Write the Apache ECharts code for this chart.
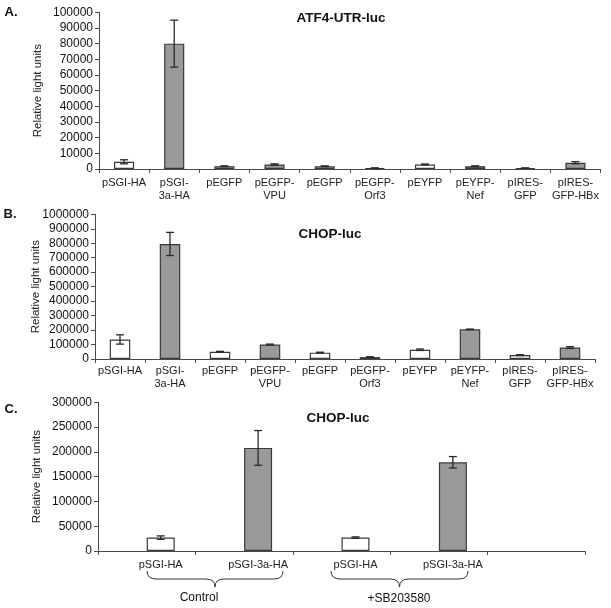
<!DOCTYPE html>
<html>
<head>
<meta charset="utf-8">
<script src="https://cdn.jsdelivr.net/npm/echarts@6/dist/echarts.min.js"></script>
<style>html,body{margin:0;padding:0;background:#fff}#c{width:611px;height:608px}</style>
</head>
<body>
<div id="c"></div>
<script>
// ---- data ----
var catsAB = ['pSGI-HA', 'pSGI-\n3a-HA', 'pEGFP', 'pEGFP-\nVPU', 'pEGFP', 'pEGFP-\nOrf3', 'pEYFP', 'pEYFP-\nNef', 'pIRES-\nGFP', 'pIRES-\nGFP-HBx'];
var atf4Values = [4600, 80000, 1800, 2900, 1800, 600, 2900, 1800, 600, 4000];
var atf4Errors = [1300, 15000, 200, 400, 200, 100, 300, 200, 100, 700];
var chopValues = [135000, 795000, 50000, 100000, 44000, 13000, 64000, 205000, 27000, 79000];
var chopErrors = [32000, 80000, 3000, 3000, 3000, 2000, 5000, 2000, 3000, 6000];
var catsC = ['pSGI-HA', 'pSGI-3a-HA', 'pSGI-HA', 'pSGI-3a-HA', ''];
var chopCValues = [27000, 208000, 27000, 179000, null];
var chopCErrors = [3500, 35000, 1500, 11500, null];
var groupLabels = ['Control', '+SB203580'];
var yTicksA = {min: 0, max: 100000, interval: 10000};
var yTicksB = {min: 0, max: 1000000, interval: 100000};
var yTicksC = {min: 0, max: 300000, interval: 50000};

// ---- styles ----
var FONT = 'Arial, "Liberation Sans", sans-serif';
var GREY = '#9a9a9a', WHITE = '#ffffff', EDGE = '#3a3a3a', AXIS = '#4a4a4a';

function fillFor(p) { return p.dataIndex % 2 === 0 ? WHITE : GREY; }

function errData(vals, errs) {
  return vals.map(function (v, i) {
    return v == null ? [i, null, null] : [i, v - errs[i], v + errs[i]];
  });
}
function errRender(offset, cap) {
  return function (params, api) {
    var lo = api.value(1), hi = api.value(2);
    if (lo == null || isNaN(lo)) return null;
    var pLo = api.coord([api.value(0), lo]);
    var pHi = api.coord([api.value(0), hi]);
    var x = pLo[0] + offset;
    var st = {stroke: '#2a2a2a', lineWidth: 1.3};
    return {type: 'group', children: [
      {type: 'line', shape: {x1: x, y1: pLo[1], x2: x, y2: pHi[1]}, style: st},
      {type: 'line', shape: {x1: x - cap / 2, y1: pHi[1], x2: x + cap / 2, y2: pHi[1]}, style: st},
      {type: 'line', shape: {x1: x - cap / 2, y1: pLo[1], x2: x + cap / 2, y2: pLo[1]}, style: st}
    ]};
  };
}
function xAxisCfg(idx, data, margin, showLabel) {
  return {
    type: 'category', gridIndex: idx, data: data,
    axisLine: {lineStyle: {color: AXIS, width: 1}},
    axisTick: {show: true, interval: 0, length: 4, lineStyle: {color: AXIS}},
    axisLabel: {show: showLabel, interval: 0, fontFamily: FONT, fontSize: 11, color: '#222', lineHeight: 13, margin: margin}
  };
}
function yAxisCfg(idx, t, gap) {
  return {
    type: 'value', gridIndex: idx, min: t.min, max: t.max, interval: t.interval,
    name: 'Relative light units', nameLocation: 'middle', nameGap: gap, nameRotate: 90,
    nameMoveOverlap: false,
    nameTextStyle: {fontFamily: FONT, fontSize: 11.5, color: '#222'},
    axisLine: {show: true, lineStyle: {color: AXIS}},
    axisTick: {show: true, length: 4, lineStyle: {color: AXIS}},
    axisLabel: {fontFamily: FONT, fontSize: 12, color: '#111', margin: 6,
      formatter: function (v) { return String(v); }},
    splitLine: {show: false}
  };
}

var chart = echarts.init(document.getElementById('c'), null, {renderer: 'canvas'});
var option = {
  animation: false,
  backgroundColor: '#fff',
  grid: [
    {left: 99, top: 12.3, width: 501.5, height: 156.7},
    {left: 95, top: 214.3, width: 500, height: 144.7},
    {left: 98, top: 402.3, width: 487, height: 148.7}
  ],
  xAxis: [
    xAxisCfg(0, catsAB, 7, true),
    xAxisCfg(1, catsAB, 5, true),
    xAxisCfg(2, catsC, 8, false)
  ],
  yAxis: [
    yAxisCfg(0, yTicksA, 55),
    yAxisCfg(1, yTicksB, 53),
    yAxisCfg(2, yTicksC, 55)
  ],
  series: [
    {type: 'bar', xAxisIndex: 0, yAxisIndex: 0, data: atf4Values, barWidth: '40%',
      itemStyle: {color: fillFor, borderColor: EDGE, borderWidth: 1.2}},
    {type: 'custom', xAxisIndex: 0, yAxisIndex: 0, data: errData(atf4Values, atf4Errors),
      renderItem: errRender(0, 8), encode: {x: 0, y: [1, 2]}, z: 5},
    {type: 'bar', xAxisIndex: 1, yAxisIndex: 1, data: chopValues, barWidth: '41%',
      itemStyle: {color: fillFor, borderColor: EDGE, borderWidth: 1.2}},
    {type: 'custom', xAxisIndex: 1, yAxisIndex: 1, data: errData(chopValues, chopErrors),
      renderItem: errRender(0, 8), encode: {x: 0, y: [1, 2]}, z: 5},
    {type: 'bar', xAxisIndex: 2, yAxisIndex: 2, data: catsC.map(function () { return null; }),
      barWidth: 28, barGap: '0%', itemStyle: {color: 'transparent'}},
    {type: 'bar', xAxisIndex: 2, yAxisIndex: 2, data: chopCValues, barWidth: 28, barGap: '0%',
      itemStyle: {color: fillFor, borderColor: EDGE, borderWidth: 1.2},
      label: {show: true, position: 'bottom', distance: 8, fontFamily: FONT, fontSize: 11, color: '#222',
        formatter: function (p) { return catsC[p.dataIndex]; }}},
    {type: 'custom', xAxisIndex: 2, yAxisIndex: 2, data: errData(chopCValues, chopCErrors),
      renderItem: errRender(14, 8), encode: {x: 0, y: [1, 2]}, z: 5}
  ]
};
chart.setOption(option);

var braceStyle = {stroke: '#333', lineWidth: 1, fill: null};
function brace(x1, x2, y0, y1, y2, r) {
  var xm = (x1 + x2) / 2;
  return [
    {type: 'bezierCurve', shape: {x1: x1, y1: y0, cpx1: x1, cpy1: y1, x2: x1 + r, y2: y1}, style: braceStyle},
    {type: 'line', shape: {x1: x1 + r, y1: y1, x2: xm - r, y2: y1}, style: braceStyle},
    {type: 'bezierCurve', shape: {x1: xm - r, y1: y1, cpx1: xm, cpy1: y1, x2: xm, y2: y2}, style: braceStyle},
    {type: 'bezierCurve', shape: {x1: xm, y1: y2, cpx1: xm, cpy1: y1, x2: xm + r, y2: y1}, style: braceStyle},
    {type: 'line', shape: {x1: xm + r, y1: y1, x2: x2 - r, y2: y1}, style: braceStyle},
    {type: 'bezierCurve', shape: {x1: x2 - r, y1: y1, cpx1: x2, cpy1: y1, x2: x2, y2: y0}, style: braceStyle}
  ];
}
function txt(s, x, y, size, bold) {
  return {type: 'text', x: x, y: y, style: {text: s, font: (bold ? 'bold ' : '') + size + 'px ' + FONT,
    fill: '#111', align: 'center', verticalAlign: 'middle'}};
}
var gfx = [
  txt('A.', 11, 12, 13, true),
  txt('B.', 10, 214, 13, true),
  txt('C.', 11, 409, 13, true),
  txt('ATF4-UTR-luc', 341, 18, 13.5, true),
  txt('CHOP-luc', 330, 234, 13.5, true),
  txt('CHOP-luc', 338, 418, 13.5, true),
  txt(groupLabels[0], 199, 598, 12, false),
  txt(groupLabels[1], 399, 599, 12, false)
].concat(brace(147, 283, 571, 579, 587, 9)).concat(brace(331, 468, 571, 579, 587, 9));
chart.setOption({graphic: gfx});
</script>
</body>
</html>
